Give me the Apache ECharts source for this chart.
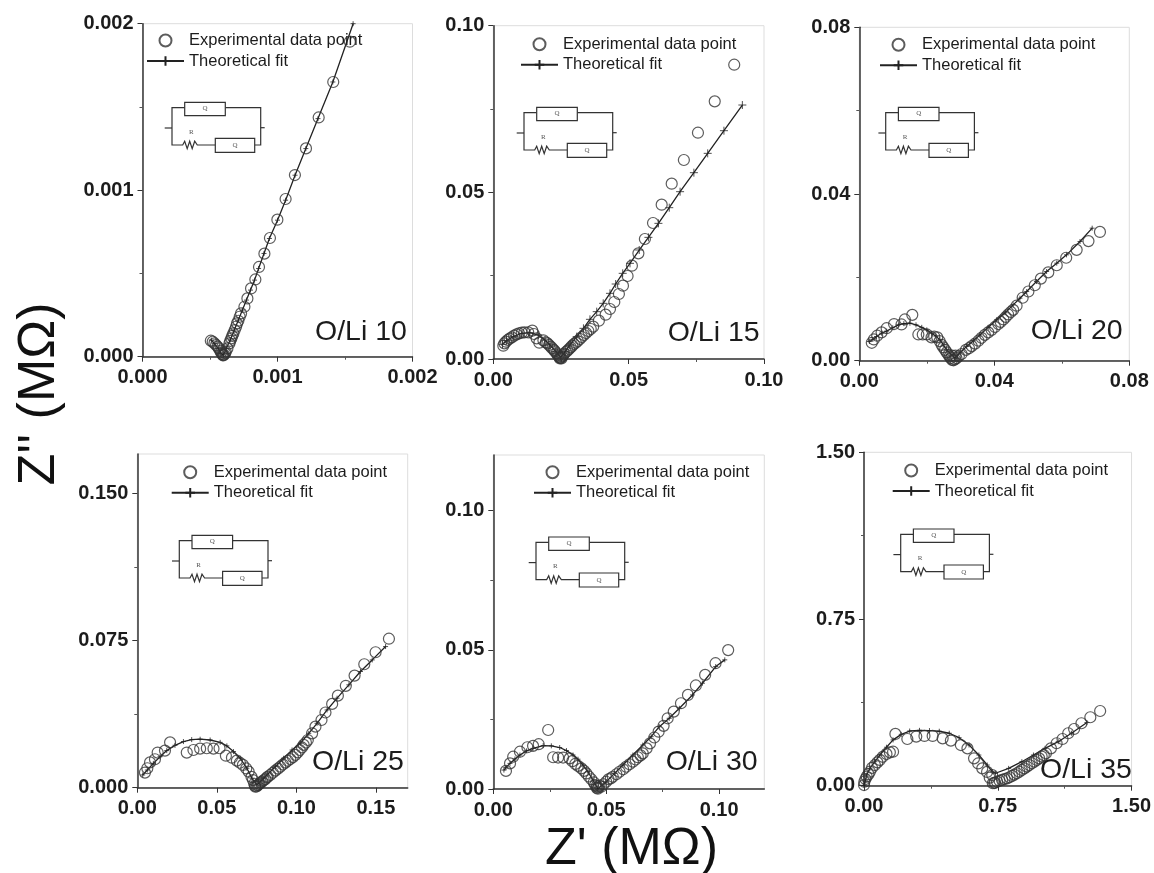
<!DOCTYPE html>
<html>
<head>
<meta charset="utf-8">
<title>Impedance plots</title>
<style>
html, body { margin: 0; padding: 0; background: #fff; }
#chart { width: 1154px; height: 873px; }
</style>
<script src="https://cdn.jsdelivr.net/npm/echarts@6/dist/echarts.min.js"></script>
</head>
<body>
<div id="chart"></div>
<script>
// panel names
const panelNames = ["O/Li 10", "O/Li 15", "O/Li 20", "O/Li 25", "O/Li 30", "O/Li 35"];

// tick values per panel
const xMajor = [[0, 0.001, 0.002], [0, 0.05, 0.10], [0, 0.04, 0.08], [0, 0.05, 0.10, 0.15], [0, 0.05, 0.10], [0, 0.75, 1.5]];
const xMinor = [[0.0005, 0.0015], [0.025, 0.075], [0.02, 0.06], [], [0.025, 0.075], [0.375, 1.125]];
const yMajor = [[0, 0.001, 0.002], [0, 0.05, 0.10], [0, 0.04, 0.08], [0, 0.075, 0.15], [0, 0.05, 0.10], [0, 0.75, 1.5]];
const yMinor = [[0.0005, 0.0015], [0.025, 0.075], [0.02, 0.06], [0.0375, 0.1125], [0.025, 0.075], [0.375, 1.125]];
const axisMax = [0.002, 0.10, 0.08, 0.17, 0.12, 1.5];
const labelDigits = [3, 2, 2, 2, 2, 2];
const yLabelDigits = [3, 2, 2, 3, 2, 2];

// experimental points [Z', Z'']
const exp10 = [[.001536,.001892],[.001413,.00165],[.001305,.001437],[.001211,.001251],[.001129,.001091],[.00106,.000947],[.000999,.000823],[.000944,.000713],[.000903,.000619],[.000863,.000539],[.000836,.000464],[.000804,.00041],[.000777,.00035],[.000755,.0003],[.00073,.00026],[.00071,.000216],[.000693,.00018],[.000673,.00014],[.000658,.00011],[.000644,.00008],[.000629,.00005],[.000617,.00003],[.000604,.000012],[.000589,.000016],[.000575,.000036],[.000557,.00006],[.000533,.00008],[.000506,.000096],
	[.000612,.00002],[.000598,.000008],[.000595,.00001],[.000582,.000025],[.000566,.00005],[.000545,.00007],[.00052,.00009],[.00065,.000095],[.000665,.000125],[.000683,.00016],[.0007,.0002],[.00072,.00024]];
const exp15 = [[.089,.0883],[.0818,.0773],[.0756,.0679],[.0704,.0597],[.0659,.0526],[.0622,.0463],[.059,.0408],[.056,.036],[.0536,.0317],[.0512,.028],[.0496,.0249],[.0479,.022],[.0464,.0195],[.0447,.0171],[.0431,.015],[.0415,.0133],[.039,.0115],[.0369,.0097],[.0351,.0084],[.0335,.0072],[.032,.006],[.0305,.0049],[.0292,.004],[.028,.003],[.0268,.0021],[.0259,.0012],[.0249,.0004],[.0241,.0009],[.0234,.0017],[.0224,.0027],[.0212,.0037],[.02,.0047],[.017,.0049],[.016,.0062],[.0144,.0085],[.0129,.008],[.0105,.0079],[.0086,.0074],[.0068,.0065],[.0053,.0057],[.0041,.0047],[.0037,.004],
	[.0255,.0008],[.0245,.0005],[.0252,.0002],[.0246,.0002],[.0238,.0012],[.0262,.0016],[.0274,.0025],[.0286,.0035],[.0298,.0045],[.0312,.0054],[.0327,.0066],[.0343,.0078],[.036,.009],[.0228,.0023],[.0218,.0032],[.0206,.0042],[.0194,.005],[.0185,.0056],[.015,.0075],[.0115,.008],[.0095,.0077],[.0077,.007],[.006,.0061],[.0047,.0052]];
const exp20 = [[.0713,.0309],[.0679,.0287],[.0644,.0266],[.0613,.0247],[.0585,.0229],[.056,.0212],[.0538,.0197],[.052,.0181],[.0501,.0166],[.0484,.0151],[.0466,.0132],[.0456,.0122],[.0441,.0111],[.0427,.0099],[.0412,.0088],[.0392,.0074],[.0372,.0062],[.0353,.0048],[.0333,.0035],[.0316,.0026],[.0303,.0016],[.0288,.0006],[.0279,.0001],[.0271,.0006],[.0264,.0014],[.0254,.0026],[.0244,.0038],[.0231,.0056],[.0214,.0056],[.02,.0063],[.0188,.0063],[.0175,.0063],[.0157,.011],[.0135,.0099],[.0125,.0087],[.0103,.0088],[.0081,.0078],[.0066,.0068],[.0053,.006],[.0043,.0051],[.0037,.0043],
	[.0283,.0003],[.0275,.0002],[.0285,.0012],[.0275,.0012],[.0268,.001],[.0295,.0011],[.0259,.002],[.0249,.0032],[.0238,.0047],[.0222,.0058],[.0325,.003],[.0343,.0041],[.0362,.0055],[.0382,.0068],[.0402,.0081],[.0419,.0093],[.0434,.0105],[.0449,.0117]];
const exp25 = [[.1582,.0759],[.1498,.069],[.1427,.0629],[.1366,.0571],[.1311,.0519],[.1261,.0469],[.1225,.0427],[.1183,.0383],[.1158,.0345],[.112,.0311],[.1099,.0277],[.1072,.0243],[.1046,.0218],[.1021,.0192],[.0994,.0167],[.0962,.0146],[.0931,.0128],[.0899,.0107],[.0868,.0087],[.0836,.0065],[.0805,.0044],[.0777,.0026],[.0756,.0012],[.0742,.0005],[.0727,.0039],[.07,.0082],[.0664,.0116],[.0626,.0138],[.0595,.0153],[.0557,.0163],[.0517,.0201],[.0479,.0199],[.0437,.0201],[.0395,.0199],[.0353,.0192],[.0311,.0179],[.0206,.0231],[.0174,.0189],[.0128,.0179],[.0111,.0145],[.008,.0129],[.0063,.0099],[.0048,.0077],
	[.075,.0006],[.074,.001],[.0735,.002],[.0762,.0016],[.0768,.002],[.0785,.0032],[.0795,.0038],[.0815,.0052],[.082,.0056],[.0852,.0076],[.0884,.0097],[.0915,.0118],[.0946,.0137],[.0978,.0156],[.1008,.018],[.1035,.0205],[.106,.023],[.0718,.0055],[.0685,.0098],[.0645,.0127]];
const exp30 = [[.104,.0499],[.0984,.0452],[.0938,.041],[.0897,.0372],[.0862,.0338],[.0831,.0308],[.0799,.0278],[.0772,.0254],[.0754,.0227],[.0732,.0206],[.0713,.0185],[.0694,.0164],[.0679,.0146],[.0662,.0128],[.064,.0114],[.0618,.0098],[.0588,.008],[.0559,.0062],[.0529,.0044],[.05,.0026],[.0478,.0008],[.0463,.0001],[.0451,.0014],[.0434,.0035],[.0412,.0056],[.039,.0074],[.0363,.009],[.0338,.011],[.0309,.0113],[.0287,.0113],[.0265,.0114],[.0243,.0212],[.0201,.0161],[.0176,.0155],[.0151,.015],[.0118,.0134],[.0088,.0116],[.0074,.0092],[.0056,.0065],
	[.0465,.0006],[.0458,.0004],[.047,.0012],[.0457,.001],[.0445,.0024],[.0488,.0017],[.051,.0035],[.052,.0038],[.0545,.0053],[.0575,.0071],[.0603,.0089],[.063,.0106],[.0652,.0121],[.0423,.0045],[.0402,.0065],[.0375,.0083],[.035,.01]];
const exp35 = [[1.324,.336],[1.269,.308],[1.219,.281],[1.178,.255],[1.145,.236],[1.113,.21],[1.08,.191],[1.048,.168],[1.02,.146],[.996,.131],[.969,.116],[.941,.101],[.913,.086],[.885,.071],[.857,.056],[.83,.044],[.802,.033],[.774,.026],[.746,.018],[.722,.011],[.719,.048],[.663,.078],[.617,.123],[.58,.168],[.543,.183],[.487,.203],[.441,.213],[.385,.224],[.339,.224],[.293,.221],[.243,.21],[.176,.233],[.163,.153],[.126,.143],[.089,.116],[.061,.093],[.033,.063],[.015,.041],[.002,.018],[0,.003],
	[.73,.012],[.735,.014],[.76,.022],[.788,.03],[.816,.038],[.843,.05],[.871,.063],[.899,.078],[.927,.093],[.955,.108],[.982,.123],[1.008,.138],[.705,.036],[.008,.03],[.025,.052],[.045,.08],[.075,.105],[.105,.13],[.145,.15],[.69,.062],[.64,.1]];

// theoretical fit
const fit10 = [[.00156,.002],[.00141,.00165],[.0013,.00143],[.00121,.00125],[.00113,.00109],[.00106,.00094],[.001,.00082],[.00094,.00071],[.0009,.00062],[.00086,.00053],[.00083,.00046],[.0008,.0004],[.00077,.00034],[.00074,.00028],[.00071,.00022],[.00068,.00016],[.00065,.0001],[.00062,.00005],[.0006,.00001],[.00058,.00002],[.00056,.00005],[.00053,.00008],[.00051,.0001]];
const fit15 = [[.092,.0762],[.0852,.0685],[.0792,.0617],[.0741,.0559],[.069,.0502],[.065,.0454],[.061,.0407],[.0573,.0365],[.0539,.0327],[.0505,.0287],[.0478,.0257],[.0452,.0225],[.0431,.0197],[.0406,.0167],[.0382,.0142],[.0357,.0119],[.0333,.0092],[.0308,.0067],[.0283,.0042],[.0265,.0022],[.0249,.0005],[.0232,.0022],[.0209,.0042],[.0191,.0057],[.0166,.0072],[.0135,.0079],[.0105,.0077],[.0074,.0067],[.0049,.0055],[.0034,.0044]];
const fit20 = [[.069,.0318],[.0654,.0286],[.0614,.0254],[.0585,.0234],[.0555,.0214],[.0525,.019],[.0496,.0166],[.0476,.015],[.0456,.0134],[.0432,.0115],[.0407,.0098],[.0382,.008],[.0358,.0062],[.0338,.0048],[.0318,.0034],[.0298,.0019],[.0283,.0006],[.0259,.0026],[.0249,.0038],[.0239,.005],[.0227,.0059],[.0214,.0066],[.02,.0074],[.0185,.008],[.0168,.0086],[.015,.009],[.0132,.0089],[.0116,.0086],[.0099,.0079],[.0081,.0071],[.0066,.0066],[.0051,.0058],[.004,.0051],[.003,.0046]];
const fit25 = [[.1561,.0719],[.1477,.0651],[.1403,.0592],[.133,.0524],[.1256,.0456],[.1193,.0396],[.113,.0328],[.1078,.0277],[.1025,.0226],[.0973,.0192],[.092,.015],[.0868,.0107],[.0815,.0065],[.0794,.0048],[.0752,.0014],[.0721,.0048],[.0689,.0099],[.0647,.015],[.0605,.0184],[.0563,.0213],[.0521,.0231],[.0458,.0243],[.0395,.0247],[.0342,.0245],[.029,.0235],[.0237,.0216],[.0185,.0189],[.0143,.0158],[.0101,.0124],[.0063,.009],[.0034,.0065]];
const fit30 = [[.1025,.0464],[.0985,.044],[.0926,.038],[.0882,.0338],[.0824,.029],[.0779,.0254],[.0735,.0224],[.0699,.0188],[.0662,.0158],[.0618,.0122],[.0574,.0086],[.0537,.0056],[.05,.0026],[.0463,.0001],[.0441,.0032],[.0419,.0062],[.0397,.0086],[.0375,.0107],[.0353,.0122],[.0324,.0138],[.0294,.0149],[.0257,.0155],[.0221,.0156],[.0176,.0146],[.0147,.0137],[.0118,.0122],[.0096,.0108],[.0074,.0092],[.0056,.0077],[.0047,.0068]];
const fit35 = [[1.25,.284],[1.163,.236],[1.089,.198],[1.015,.168],[.95,.138],[.885,.108],[.811,.078],[.737,.056],[.719,.063],[.691,.093],[.644,.138],[.589,.183],[.533,.216],[.478,.236],[.422,.245],[.367,.248],[.311,.249],[.256,.246],[.209,.231],[.163,.206],[.126,.173],[.089,.138],[.061,.108],[.033,.078],[.015,.048],[.006,.018],[0,.002]];

const expData = [exp10, exp15, exp20, exp25, exp30, exp35];
const fitData = [fit10, fit15, fit20, fit25, fit30, fit35];

const expName = "Experimental data point";
const fitName = "Theoretical fit";

// layout, in page pixels
const grids = [
	{ left: 142.5, top: 23.7, width: 270, height: 333 },
	{ left: 493.3, top: 25.7, width: 270.7, height: 333.3 },
	{ left: 859.3, top: 27.3, width: 270, height: 333.4 },
	{ left: 137.3, top: 454, width: 270.4, height: 333.7 },
	{ left: 493.3, top: 455, width: 271, height: 334 },
	{ left: 864, top: 452.3, width: 270, height: 333.4 },
];
const legendPos = [[146, 32], [520, 35.7], [879, 36.3], [170.7, 463.7], [533, 463.7], [891.7, 462]];
const tagPos = [[315, 332], [667.7, 333], [1030.7, 331], [312, 762], [665.7, 762], [1040, 770]];
const circuitPos = [[172, 107.7], [524, 112.7], [885.7, 112.7], [179.3, 540.7], [536, 542.3], [900.7, 534.3]];
const plusSize = [5, 8, 5, 5, 5, 5];

const FONT = '"Liberation Sans", Arial, sans-serif';
const INK = "#1c1c1c";
const PLUS = "path://M0 5H10M5 0V10";

function wire(points) {
	return { type: "polyline", shape: { points }, style: { stroke: "#333", lineWidth: 1.2, fill: null } };
}

function box(x, y, width, height) {
	return { type: "rect", shape: { x, y, width, height }, style: { stroke: "#333", lineWidth: 1.2, fill: "#fff" } };
}

function smallText(x, y, text) {
	return { type: "text", style: { x, y, text, fill: "#555", font: '7px "Liberation Serif", serif', textAlign: "center", textVerticalAlign: "middle" } };
}

// R-Q parallel circuit drawn inside each panel
function circuit(pos) {
	return {
		type: "group", x: pos[0], y: pos[1], silent: true,
		children: [
			wire([[12.7, 0], [0, 0], [0, 37.3], [10.7, 37.3], [12.7, 33.5], [15.2, 41], [17.7, 33.5], [20.2, 41], [22.7, 33.5], [25.3, 37.3], [43.3, 37.3]]),
			wire([[53.3, 0], [88.7, 0], [88.7, 37.3], [82.7, 37.3]]),
			wire([[-7.3, 20.3], [0, 20.3]]),
			wire([[88.7, 20], [92.7, 20]]),
			box(12.7, -5.3, 40.6, 13.3),
			box(43.3, 30.7, 39.4, 14),
			smallText(33, 0.7, "Q"),
			smallText(63, 37.7, "Q"),
			smallText(19.3, 24, "R"),
		],
	};
}

const grid = [], xAxis = [], yAxis = [], series = [], legend = [], graphic = [];

panelNames.forEach((name, i) => {
	grid.push(Object.assign({ show: true, borderColor: "#ddd", borderWidth: 1, backgroundColor: "#fff" }, grids[i]));

	const axis = (major, minor, digits, position, margin) => {
		const common = { type: "value", gridIndex: i, position, min: 0, max: axisMax[i], splitLine: { show: false } };
		return [
			Object.assign({}, common, {
				axisLine: { onZero: false, lineStyle: { color: "#333", width: 1.5 } },
				axisTick: { length: 5, customValues: major, lineStyle: { color: "#333", width: 1 } },
				axisLabel: {
					customValues: major, margin, hideOverlap: false, showMinLabel: true, showMaxLabel: true,
					color: INK, fontFamily: FONT, fontWeight: "bold", fontSize: 20,
					formatter: (v) => v.toFixed(digits),
				},
			}),
			Object.assign({}, common, {
				axisLine: { show: false, onZero: false },
				axisTick: { show: minor.length > 0, length: 3, customValues: minor, lineStyle: { color: "#555", width: 1 } },
				axisLabel: { show: false },
			}),
		];
	};
	xAxis.push(...axis(xMajor[i], xMinor[i], labelDigits[i], "bottom", 11));
	yAxis.push(...axis(yMajor[i], yMinor[i], yLabelDigits[i], "left", 9));

	series.push({
		name: fitName, type: "line", xAxisIndex: 2 * i, yAxisIndex: 2 * i, data: fitData[i],
		showSymbol: true, symbol: PLUS, symbolSize: plusSize[i], animation: false, z: 3,
		lineStyle: { color: "#222", width: 1.3 },
		itemStyle: { color: "#222", borderColor: "#222", borderWidth: 0.8 },
	});
	series.push({
		name: expName, type: "scatter", xAxisIndex: 2 * i, yAxisIndex: 2 * i, data: expData[i],
		symbol: "circle", symbolSize: 11, animation: false, z: 4,
		itemStyle: { color: "rgba(255,255,255,0)", borderColor: "#333", borderWidth: 1.2 },
	});

	legend.push({
		left: legendPos[i][0], top: legendPos[i][1], orient: "vertical", itemWidth: 37, itemHeight: 12, itemGap: 3.5,
		data: [expName, fitName], selectedMode: false, padding: 0,
		textStyle: { color: INK, fontFamily: FONT, fontSize: 16.5 },
	});

	graphic.push(circuit(circuitPos[i]));
	graphic.push({
		type: "text", x: tagPos[i][0], y: tagPos[i][1], silent: true,
		style: { text: name, fill: INK, font: "28.5px " + FONT, textVerticalAlign: "middle" },
	});
});

// shared axis titles
graphic.push({
	type: "text", x: 631.5, y: 850, silent: true,
	style: { text: "Z' (M\u03a9)", fill: "#111", font: "52px " + FONT, textAlign: "center", textVerticalAlign: "middle" },
});
graphic.push({
	type: "text", x: 40, y: 394, rotation: Math.PI / 2, silent: true,
	style: { text: "Z'' (M\u03a9)", fill: "#111", font: "52px " + FONT, textAlign: "center", textVerticalAlign: "middle" },
});

const chart = echarts.init(document.getElementById("chart"), null, { renderer: "canvas" });
chart.setOption({
	animation: false,
	backgroundColor: "#fff",
	grid, xAxis, yAxis, series, legend, graphic,
});
</script>
</body>
</html>
